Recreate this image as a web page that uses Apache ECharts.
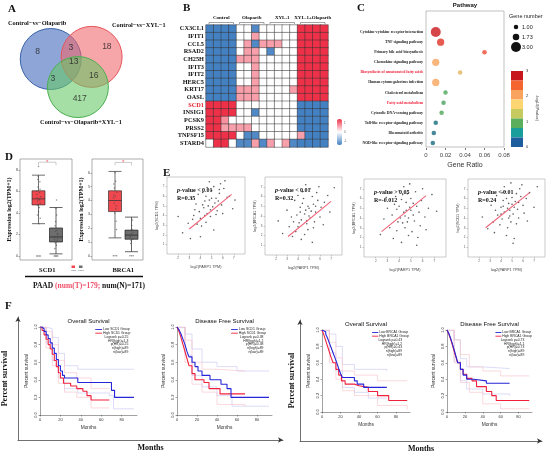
<!DOCTYPE html>
<html>
<head>
<meta charset="utf-8">
<script src="https://cdn.jsdelivr.net/npm/echarts@6/dist/echarts.min.js"></script>
<style>
  html, body { margin: 0; padding: 0; background: #fff; }
  #chart { width: 550px; height: 454px; }
</style>
</head>
<body>
<div id="chart"></div>
<script>
var SERIF = '"Liberation Serif", "Times New Roman", serif';
var SANS = '"Liberation Sans", Arial, sans-serif';

// ---------------- A: Venn ----------------
var vennNames = ['Control\u2212vs\u2212Olaparib', 'Control\u2212vs\u2212XYL\u22121', 'Control\u2212vs\u2212Olaparib+XYL\u22121'];
var vennCenters = [[0, 0], [1.34, 0.07], [0.89, -0.92]];        // unit radius circles
var vennCounts = [8, 3, 18, 13, 3, 16, 417];
var vennCountAt = [[-0.43, 0.23], [0.66, 0.36], [1.84, 0.39], [0.75, -0.1], [0.07, -0.66], [1.41, -0.56], [0.95, -1.31]];

// ---------------- B: heatmap ----------------
var hmGenes = ['CX3CL1', 'IFIT1', 'CCL5', 'RSAD2', 'CH25H', 'IFIT3', 'IFIT2', 'HERC5', 'KRT17', 'OASL',
               'SCD1', 'INSIG1', 'PCSK9', 'PRSS2', 'TNFSF15', 'STARD4'];
var hmGroups = ['Control', 'Olaparib', 'XYL-1', 'XYL-1+Olaparib'];
var hmRows = [
  [-1.5, -1.5, -1.5, -1.5, 0, 0, -1.4, 0, 0, 0, 0, 0, 1.5, 1.5, 1.5, 1.5],
  [-1.5, -1.5, -1.5, -1.5, 0, 0, 0.7, 0, 0, 0, 0, 0, 1.5, 1.5, 1.5, 1.5],
  [-1.5, -1.5, -1.5, -1.5, 0, 0.7, -1.4, 0.7, 0.7, 0.7, 0, 0, 1.5, 1.5, 1.5, 1.5],
  [-1.5, -1.5, -1.5, -1.5, 0, 0.7, 0.7, 0, -1.4, 0, 0, 0, 1.5, 1.5, 1.5, 1.5],
  [-1.5, -1.5, -1.5, -1.5, 0.7, 0.7, 0.7, 0, 0, 0, 0, 0, 1.5, 1.5, 1.5, 1.5],
  [-1.5, -1.5, -1.5, -1.5, 0, 0, 0.7, 0, 0, 0, 0, 0, 1.5, 1.5, 1.5, 1.5],
  [-1.5, -1.5, -1.5, -1.5, 0, 0, 0.7, 0, 0, 0, 0, 0, 1.5, 1.5, 1.5, 1.5],
  [-1.5, -1.5, -1.5, -1.5, 0, 0, 0.7, 0, 0, 0, 0, 0, 1.5, 1.5, 1.5, 1.5],
  [-1.5, -1.5, -1.5, -1.5, 0.7, 0.7, 0.7, 0, 0, 0, 0, 0.7, 1.5, 1.5, 1.5, 1.5],
  [-1.5, -1.5, -1.5, -1.5, 0.7, 0.7, 0.7, 0, 0, 0, 0, 0, 1.5, 1.5, 1.5, 1.5],
  [1.5, 1.5, 1.5, 1.5, 0, 0, 0, 0, 0, 0, 0, 0, -1.5, -1.5, -1.5, -1.5],
  [1.5, 1.5, 1.5, 1.5, 0, 0, -1.4, 0, 0, 0, 0, 0, -1.5, -1.5, -1.5, -1.5],
  [1.5, 1.5, 0.8, 0, 0, 0, 0, 0, 0, 0, 0, 0, -1.5, -1.5, -1.5, -1.5],
  [1.5, 1.5, 0.7, 0.7, 0.7, 0.7, 0, 0, 0, 0, 0, 0, -1.5, -1.5, -1.5, -1.5],
  [1.5, 1.5, 1.5, 1.5, 0, -1.4, -1.4, 0, 0, 0, 0, 0, 0.7, -1.5, -1.5, -1.5],
  [0, 1.5, 1.5, 0, -1.4, -1.4, 0.7, -1.4, 0.7, 0, 0.7, -1.4, -1.5, -1.5, -1.5, -1.5]
];

// ---------------- C: pathway dot plot ----------------
var pwNames = ['Cytokine-cytokine receptor interaction', 'TNF signaling pathway', 'Primary bile acid biosynthesis',
  'Chemokine signaling pathway', 'Biosynthesis of unsaturated fatty acids', 'Human cytomegalovirus infection',
  'Cholesterol metabolism', 'Fatty acid metabolism', 'Cytosolic DNA-sensing pathway',
  'Toll-like receptor signaling pathway', 'Rheumatoid arthritis', 'NOD-like receptor signaling pathway'];
var pwRed = ['Biosynthesis of unsaturated fatty acids', 'Fatty acid metabolism'];
var pwRatio = [0.010, 0.015, 0.060, 0.010, 0.035, 0.010, 0.020, 0.018, 0.016, 0.010, 0.008, 0.007];
var pwLogP = [2.95, 2.7, 2.5, 2.0, 1.8, 2.0, 1.0, 0.95, 1.0, 0.4, 0.35, 0.35];
var pwGenes = [3, 2, 1, 2, 1, 2, 1, 1, 1, 1, 1, 1];
var geneLegend = [1.00, 1.73, 3.00];
var pBins = [0, 0.375, 0.75, 1.125, 1.5, 1.875, 2.25, 2.625, 3];
var pBinColors = ['#1E5E9E', '#1A9E9B', '#5BAE5C', '#C6CB60', '#FDD672', '#F9A35E', '#F4652F', '#C8161E'];
var pTicks = [0, 1, 2, 3];

// ---------------- D: expression boxplots ----------------
var dGenes = ['SCD1', 'BRCA1'];
var dTumorBox = [[3.0, 4.74, 5.3, 6.05, 7.5], [1.3, 3.2, 4.0, 4.7, 6.1]];
var dNormalBox = [[0.2, 1.3, 1.77, 2.6, 4.5], [0.3, 1.2, 1.5, 1.86, 2.8]];
var dTumorPts = [
  [[0.02, 5.3], [-0.08, 5.7], [0.1, 4.9], [-0.03, 6.4], [0.05, 4.5], [-0.1, 6.0], [0.12, 5.5], [-0.05, 5.1], [0.08, 6.9],
   [0, 4.1], [-0.07, 4.7], [0.06, 5.9], [-0.02, 7.4], [0.1, 3.5], [-0.04, 7.1], [0.03, 3.0], [-0.09, 5.4], [0.07, 5.2],
   [0, 8.3], [-0.06, 3.8], [0.09, 6.2], [-0.01, 4.8], [0.04, 0], [-0.1, 0], [0.1, 0], [-0.04, 0]],
  [[0, 4.0], [-0.07, 4.4], [0.08, 3.6], [-0.04, 4.9], [0.05, 3.4], [-0.1, 4.2], [0.11, 4.6], [-0.02, 3.1], [0.04, 5.4],
   [-0.05, 3.8], [0.07, 2.5], [0, 6.0], [-0.08, 5.2], [0.09, 1.9], [0.02, 4.3], [0, 0], [-0.1, 0], [0.1, 0]]
];
var dNormalPts = [
  [[0, 1.8], [-0.08, 1.5], [0.08, 2.1], [-0.04, 1.2], [0.05, 2.4], [-0.1, 1.7], [0.1, 2.0], [0.02, 1.0], [-0.05, 2.8],
   [0.06, 1.4], [-0.02, 3.2], [0.04, 3.8], [-0.07, 0.7], [0.09, 1.6], [0, 4.4], [-0.03, 2.3], [0.03, 5.2],
   [0, 0], [-0.1, 0], [0.1, 0], [-0.05, 0], [0.05, 0]],
  [[0, 1.5], [-0.07, 1.3], [0.07, 1.7], [-0.03, 1.1], [0.04, 1.9], [-0.09, 1.4], [0.09, 1.2], [0.02, 2.2], [-0.05, 0.9],
   [0.06, 2.6], [-0.01, 1.6], [0, 0], [-0.1, 0], [0.1, 0]]
];
var dYRange = [[-0.37, 9.0], [-0.3, 7.0]];
var dSigTop = [8.7, 6.75];

// ---------------- E: correlation scatters ----------------
var eYNames = ['log2(SCD1 TPM)', 'log2(BRCA1 TPM)', 'log2(BRCA1 TPM)', 'log2(SCD1 TPM)'];
var eXName = 'log2(PARP1 TPM)';
var ePText = ['-value < 0.01', '-value < 0.01', '-value > 0.05', '-value < 0.01'];
var eRText = ['R=0.35', 'R=0.32', 'R=-0.012', 'R=0.24'];
var eFit = [[3.0, 2.6, 6.8, 6.2], [3.1, 1.9, 7.0, 5.5], [2.5, 2.6, 6.3, 6.3], [2.6, 3.0, 6.6, 6.6]];
var ePts1 = [[4.2,5.1],[4.8,5.6],[5.1,4.9],[3.9,4.4],[4.5,6.0],[5.4,5.8],[4.0,3.7],[5.7,6.3],[4.6,4.2],[3.6,5.2],
  [5.0,6.6],[4.3,4.8],[5.9,5.1],[4.9,3.9],[3.3,3.6],[5.2,7.0],[4.4,5.5],[6.1,6.8],[3.8,6.2],[4.7,5.0],[5.5,4.5],
  [4.1,2.9],[5.3,5.3],[4.6,6.9],[6.4,5.9],[3.5,4.6],[5.8,7.3],[4.9,4.6],[2.9,3.2],[5.0,5.8],[4.2,6.4],[6.6,6.0],
  [3.7,3.1],[5.6,5.5],[4.4,4.0],[2.4,2.2],[6.9,4.7],[5.2,2.5],[3.2,5.8],[6.2,7.6],[4.0,1.8],[7.1,5.6],[2.0,3.9],
  [5.4,4.1],[4.8,7.5],[3.4,4.0],[6.0,4.2],[4.5,3.3],[5.7,6.7],[3.1,1.6]];
var ePts2 = [[4.6,4.2],[5.0,4.8],[4.3,3.6],[5.4,5.2],[4.8,3.2],[3.9,4.1],[5.6,4.4],[4.4,5.3],[5.1,3.8],[4.0,2.9],
  [5.8,5.6],[4.7,4.6],[3.6,3.4],[5.3,6.0],[4.9,2.6],[4.2,4.9],[6.1,4.9],[3.8,2.4],[5.5,3.4],[4.5,5.8],[5.0,4.0],
  [6.4,5.4],[3.4,3.9],[4.1,3.3],[5.7,6.4],[4.6,2.1],[5.2,4.5],[3.2,2.9],[6.0,3.9],[4.4,6.5],[4.9,5.0],[6.7,6.1],
  [3.0,4.6],[5.4,2.8],[4.3,1.6],[5.9,7.0],[2.6,2.2],[6.9,4.4],[4.7,7.2],[3.7,5.6],[5.3,1.3],[2.2,3.5],[7.3,6.9],
  [4.0,6.1],[5.6,5.0],[4.8,3.5],[3.5,1.9],[6.3,3.1],[4.2,4.4],[5.1,6.8]];
var ePts3 = [[4.4,4.6],[4.9,5.1],[4.1,4.0],[5.2,4.3],[4.6,5.6],[3.8,4.9],[5.5,5.2],[4.3,3.5],[4.8,4.0],[5.0,6.0],
  [3.6,5.4],[5.7,4.6],[4.5,3.0],[4.2,5.9],[5.3,3.7],[3.9,3.6],[4.7,6.5],[5.9,5.8],[3.4,4.3],[4.6,4.8],[5.1,2.6],
  [4.0,6.8],[6.2,4.1],[3.2,3.0],[5.4,6.7],[4.8,2.2],[3.7,6.2],[5.8,3.2],[4.4,7.2],[6.5,5.0],[3.0,5.0],[5.6,2.0],
  [4.2,1.5],[2.7,3.9],[6.8,6.4],[4.9,7.5],[2.4,2.3],[7.2,4.7],[3.5,1.9],[5.2,5.5],[4.5,4.2],[4.0,5.2],[5.0,4.8],
  [3.8,2.7],[6.0,7.0],[4.7,3.6],[2.9,6.1],[5.5,1.2],[4.3,6.4],[6.3,2.8]];
var ePts4 = [[4.6,5.0],[5.0,5.4],[4.3,4.6],[5.3,5.7],[4.8,4.2],[4.0,5.1],[5.5,4.9],[4.5,6.0],[5.1,4.4],[4.1,3.9],
  [5.8,6.2],[4.7,5.5],[3.7,4.3],[5.4,6.5],[4.9,3.6],[4.2,5.8],[6.0,5.3],[3.9,3.3],[5.6,4.0],[4.4,6.7],[5.2,5.1],
  [6.3,6.0],[3.5,4.8],[4.0,4.4],[5.7,7.0],[4.6,3.0],[5.0,6.1],[3.3,3.6],[6.1,4.5],[4.3,7.2],[4.8,4.8],[6.6,6.6],
  [3.1,5.3],[5.4,3.4],[4.5,2.2],[5.9,7.4],[2.8,2.9],[7.0,5.1],[4.9,7.6],[3.6,6.3],[5.2,1.9],[2.3,4.1],[7.3,7.2],
  [4.1,6.6],[5.6,5.6],[4.7,4.0],[3.4,2.5],[6.4,3.7],[4.2,5.2],[5.1,1.4]];
var ePts = [ePts1, ePts2, ePts3, ePts4];

// ---------------- F: survival curves ----------------
var fTitles = ['Overall Survival', 'Disease Free Survival', 'Overall Survival', 'Disease Free Survival'];
var fGenes = ['SCD1', 'SCD1', 'BRCA1', 'BRCA1'];
var fStats = [
  ['Logrank p=0.25', 'HR(high)=1.3', 'p(HR)=0.25', 'n(high)=89', 'n(low)=89'],
  ['Logrank p=0.38', 'HR(high)=1.2', 'p(HR)=0.38', 'n(high)=89', 'n(low)=89'],
  ['Logrank p=0.43', 'HR(high)=1.2', 'p(HR)=0.43', 'n(high)=89', 'n(low)=89'],
  ['Logrank p=0.73', 'HR(high)=1.1', 'p(HR)=0.73', 'n(high)=89', 'n(low)=89']
];
var osLowSCD1 = [[0,1],[2,0.98],[4,0.95],[6,0.91],[8,0.87],[10,0.82],[12,0.76],[14,0.7],[16,0.63],[18,0.56],[20,0.5],[22,0.45],[24,0.42],[37,0.37],[68,0.37],[70,0.28],[73,0.2],[92,0.2]];
var osHighSCD1 = [[0,1],[2,0.96],[4,0.91],[6,0.86],[8,0.8],[10,0.75],[12,0.69],[14,0.62],[16,0.55],[18,0.48],[20,0.42],[23,0.36],[30,0.33],[36,0.3],[42,0.27],[46,0.22],[50,0.17],[68,0.17]];
var osLowSCD1Up = [[0,1],[6,0.98],[12,0.88],[18,0.7],[24,0.56],[37,0.52],[92,0.52]];
var osLowSCD1Lo = [[0,1],[6,0.82],[12,0.62],[18,0.42],[24,0.3],[37,0.25],[68,0.22],[72,0.07],[92,0.07]];
var osHighSCD1Up = [[0,1],[6,0.95],[12,0.8],[18,0.62],[24,0.48],[36,0.42],[50,0.3],[68,0.3]];
var osHighSCD1Lo = [[0,1],[6,0.76],[12,0.56],[18,0.36],[24,0.26],[36,0.2],[50,0.08],[68,0.08]];

var dfsLowSCD1 = [[0,1],[2,0.97],[4,0.92],[6,0.86],[8,0.8],[10,0.72],[12,0.66],[15,0.6],[18,0.55],[21,0.5],[25,0.45],[33,0.4],[44,0.35],[50,0.3],[54,0.2],[92,0.2]];
var dfsHighSCD1 = [[0,1],[2,0.95],[4,0.88],[6,0.8],[8,0.72],[10,0.64],[12,0.56],[15,0.47],[18,0.4],[27,0.37],[32,0.3],[43,0.24],[68,0.24]];
var dfsLowSCD1Up = [[0,1],[8,0.92],[15,0.75],[25,0.6],[40,0.55],[60,0.5],[92,0.5]];
var dfsLowSCD1Lo = [[0,1],[8,0.68],[15,0.45],[25,0.32],[40,0.22],[55,0.1],[92,0.1]];
var dfsHighSCD1Up = [[0,1],[8,0.85],[15,0.6],[25,0.52],[40,0.5],[68,0.5]];
var dfsHighSCD1Lo = [[0,1],[8,0.6],[15,0.35],[25,0.26],[40,0.12],[68,0.1]];

var osLowBRCA1 = [[0,1],[2,0.98],[4,0.95],[6,0.9],[8,0.84],[10,0.78],[12,0.72],[14,0.66],[16,0.6],[18,0.53],[20,0.47],[22,0.42],[35,0.38],[38,0.34],[45,0.3],[70,0.3]];
var osHighBRCA1 = [[0,1],[2,0.94],[4,0.87],[6,0.8],[8,0.73],[10,0.66],[12,0.6],[15,0.52],[18,0.45],[21,0.38],[25,0.34],[35,0.32],[40,0.3],[50,0.25],[60,0.2],[72,0.14],[92,0.14]];
var osLowBRCA1Up = [[0,1],[8,0.95],[15,0.8],[22,0.58],[35,0.52],[70,0.5]];
var osLowBRCA1Lo = [[0,1],[8,0.72],[15,0.5],[22,0.3],[35,0.24],[50,0.17],[70,0.17]];
var osHighBRCA1Up = [[0,1],[8,0.85],[15,0.66],[22,0.5],[35,0.45],[60,0.38],[92,0.38]];
var osHighBRCA1Lo = [[0,1],[8,0.6],[15,0.4],[22,0.26],[35,0.2],[60,0.08],[92,0.03]];

var dfsLowBRCA1 = [[0,1],[2,0.96],[4,0.9],[6,0.83],[8,0.76],[10,0.68],[12,0.6],[15,0.52],[18,0.45],[22,0.4],[30,0.38],[44,0.35],[70,0.35]];
var dfsHighBRCA1 = [[0,1],[2,0.95],[4,0.89],[6,0.82],[8,0.74],[10,0.67],[12,0.6],[15,0.52],[18,0.46],[22,0.41],[28,0.38],[33,0.31],[44,0.25],[50,0.2],[55,0.14],[92,0.14]];
var dfsLowBRCA1Up = [[0,1],[8,0.88],[15,0.65],[22,0.55],[40,0.53],[70,0.53]];
var dfsLowBRCA1Lo = [[0,1],[8,0.62],[15,0.38],[22,0.28],[40,0.22],[70,0.2]];
var dfsHighBRCA1Up = [[0,1],[8,0.88],[15,0.7],[25,0.55],[40,0.5],[60,0.44],[92,0.44]];
var dfsHighBRCA1Lo = [[0,1],[8,0.6],[15,0.36],[25,0.24],[40,0.1],[60,0.04],[92,0.04]];

var fLow = [osLowSCD1, dfsLowSCD1, osLowBRCA1, dfsLowBRCA1];
var fHigh = [osHighSCD1, dfsHighSCD1, osHighBRCA1, dfsHighBRCA1];
var fLowCI = [[osLowSCD1Up, osLowSCD1Lo], [dfsLowSCD1Up, dfsLowSCD1Lo], [osLowBRCA1Up, osLowBRCA1Lo], [dfsLowBRCA1Up, dfsLowBRCA1Lo]];
var fHighCI = [[osHighSCD1Up, osHighSCD1Lo], [dfsHighSCD1Up, dfsHighSCD1Lo], [osHighBRCA1Up, osHighBRCA1Lo], [dfsHighBRCA1Up, dfsHighBRCA1Lo]];

// ================= build =================
var chart = echarts.init(document.getElementById('chart'));
var grids = [], xAxes = [], yAxes = [], series = [], visualMaps = [], graphics = [];

function addGrid(g) {
  grids.push(Object.assign({ outerBoundsMode: 'none', containLabel: false }, g));
  return grids.length - 1;
}
function addX(a) { xAxes.push(Object.assign({ splitLine: { show: false } }, a)); return xAxes.length - 1; }
function addY(a) { yAxes.push(Object.assign({ splitLine: { show: false } }, a)); return yAxes.length - 1; }
function text(x, y, s, st, extra) {
  graphics.push(Object.assign({
    type: 'text', x: x, y: y, silent: true, z: 50,
    style: Object.assign({ text: s, fill: '#111', fontSize: 6, fontFamily: SERIF, fontWeight: 'bold', align: 'left', verticalAlign: 'middle' }, st)
  }, extra || {}));
}

// panel letters
[['A', 8, 9], ['B', 183, 8], ['C', 357, 8], ['D', 5, 157], ['E', 163, 173], ['F', 5, 306]].forEach(function (p) {
  text(p[1], p[2], p[0], { fontSize: 11 });
});

// ---- A
var gA = addGrid({ left: 5, top: 13.25, width: 152.5, height: 122 });
var xA = addX({ gridIndex: gA, type: 'value', min: -1.5, max: 3.5, show: false });
var yA = addY({ gridIndex: gA, type: 'value', min: -2.5, max: 1.5, show: false });
var vennFill = ['rgba(72,112,190,0.62)', 'rgba(240,100,105,0.58)', 'rgba(100,200,100,0.58)'];
var vennStroke = ['#3A63A8', '#E8555A', '#4CAF50'];
series.push({
  type: 'custom', xAxisIndex: xA, yAxisIndex: yA, z: 2,
  data: vennCenters.map(function (c, i) { return [c[0], c[1], i]; }),
  renderItem: function (params, api) {
    var c = api.coord([api.value(0), api.value(1)]);
    var r = api.size([1, 0])[0];
    var i = api.value(2);
    return { type: 'circle', shape: { cx: c[0], cy: c[1], r: r }, style: { fill: vennFill[i], stroke: vennStroke[i], lineWidth: 1 } };
  }
});
series.push({
  type: 'scatter', xAxisIndex: xA, yAxisIndex: yA, z: 3, symbolSize: 1, itemStyle: { color: 'rgba(0,0,0,0)' },
  data: vennCountAt.map(function (p, i) { return [p[0], p[1], vennCounts[i]]; }),
  label: { show: true, position: 'inside', formatter: function (p) { return p.value[2]; }, fontSize: 8.5, color: '#222', fontFamily: SANS }
});
text(8, 23, vennNames[0], { fontSize: 6.3 });
text(112, 25, vennNames[1], { fontSize: 6.3 });
text(81, 122, vennNames[2], { fontSize: 6.3, align: 'center' });

// ---- B
var B_LEFT = 206, B_TOP = 25, B_W = 122, B_H = 122;
var gB = addGrid({ left: B_LEFT, top: B_TOP, width: B_W, height: B_H });
var nCols = hmRows[0].length;
var colIds = []; for (var c = 0; c < nCols; c++) colIds.push(String(c));
var xB = addX({ gridIndex: gB, type: 'category', data: colIds, show: false });
addX({ gridIndex: gB, type: 'category', data: hmGroups, position: 'top',
  axisLine: { show: false }, axisTick: { show: false },
  axisLabel: { interval: 0, fontSize: 5, fontFamily: SERIF, fontWeight: 'bold', color: '#111', margin: 5 } });
var yB = addY({ gridIndex: gB, type: 'category', inverse: true,
  data: hmGenes.map(function (g) { return g === 'SCD1' ? { value: g, textStyle: { color: '#E8202A' } } : g; }),
  axisLine: { show: false }, axisTick: { show: false },
  axisLabel: { interval: 0, fontSize: 6.3, fontFamily: SERIF, fontWeight: 'bold', color: '#111', margin: 2 } });
var hmData = [];
hmRows.forEach(function (row, r) { row.forEach(function (v, c) { hmData.push([c, r, v]); }); });
series.push({ type: 'heatmap', xAxisIndex: xB, yAxisIndex: yB, data: hmData,
  itemStyle: { borderColor: '#333', borderWidth: 0.5 } });
var heatIdx = series.length - 1;
visualMaps.push({ type: 'continuous', seriesIndex: heatIdx, min: -1.5, max: 1.5, calculable: false,
  left: 337, top: 119, itemWidth: 5, itemHeight: 26, padding: 0, text: ['', ''], hoverLink: false,
  inRange: { color: ['#4481C2', '#FFFFFF', '#EE3148'] }, textStyle: { fontSize: 3 } });
['1', '0', '-1'].forEach(function (t, i) { text(344, 123 + i * 9, t, { fontSize: 3, fontWeight: 'normal', fill: '#666', fontFamily: SANS }); });
var gw = B_W / hmGroups.length;
hmGroups.forEach(function (g, i) {
  var x1 = B_LEFT + i * gw + 3, x2 = B_LEFT + (i + 1) * gw - 3;
  graphics.push({ type: 'polyline', silent: true, shape: { points: [[x1, 24], [x1, 22.5], [x2, 22.5], [x2, 24]] },
    style: { stroke: '#666', lineWidth: 0.6, fill: null } });
});

// ---- C
addGrid({ left: 426, top: 11, width: 78, height: 136, show: true, borderColor: '#999', borderWidth: 0.6 });
var gC = addGrid({ left: 426, top: 27, width: 78, height: 121 });
var xC = addX({ gridIndex: gC, type: 'value', min: 0, max: 0.08, interval: 0.02,
  axisLine: { show: false }, axisTick: { show: true, length: 2, lineStyle: { color: '#777' } },
  axisLabel: { fontSize: 6, color: '#444', fontFamily: SANS, margin: 4 },
  name: 'Gene Ratio', nameLocation: 'middle', nameGap: 14, nameTextStyle: { fontSize: 7, color: '#333', fontFamily: SANS } });
var yC = addY({ gridIndex: gC, type: 'category', inverse: true,
  data: pwNames.map(function (n) { return pwRed.indexOf(n) >= 0 ? { value: n, textStyle: { color: '#F0203A' } } : n; }),
  axisLine: { show: false }, axisTick: { show: false },
  axisLabel: { interval: 0, fontSize: 3.8, fontFamily: SERIF, fontWeight: 'bold', color: '#222', margin: 3 } });
function dotSize(g) { return 4.5 + (g - 1) * 2.75; }
series.push({ type: 'scatter', xAxisIndex: xC, yAxisIndex: yC,
  data: pwNames.map(function (n, i) { return [pwRatio[i], i, pwLogP[i], pwGenes[i]]; }),
  symbolSize: function (v) { return dotSize(v[3]); } });
var dotIdx = series.length - 1;
series.push({ type: 'scatter', xAxisIndex: xC, yAxisIndex: yC, data: [] });
var dummyIdx = series.length - 1;
visualMaps.push({ type: 'continuous', show: false, seriesIndex: dotIdx, dimension: 2, min: 0, max: 3,
  inRange: { color: ['#1E5E9E', '#127070', '#4DA65A', '#C6CB60', '#F8A45C', '#F04A2E', '#C8101A'] } });
var pieces = [];
for (var k = 0; k < pBinColors.length; k++) pieces.push({ min: pBins[k], max: pBins[k + 1], color: pBinColors[k] });
visualMaps.push({ type: 'piecewise', seriesIndex: dummyIdx, pieces: pieces, orient: 'vertical',
  left: 511, top: 71, itemWidth: 12, itemHeight: 76 / 8, itemGap: 0, itemSymbol: 'rect', padding: 0,
  showLabel: false, selectedMode: false, textStyle: { fontSize: 1 } });
text(465, 5, 'Pathway', { fontSize: 6, fontFamily: SANS, align: 'center' });
text(509, 16, 'Gene number', { fontSize: 5.5, fontFamily: SANS, fontWeight: 'normal', fill: '#222' });
geneLegend.forEach(function (g, i) {
  var cy = [27, 37, 47][i];
  graphics.push({ type: 'circle', silent: true, shape: { cx: 516, cy: cy, r: dotSize(g) / 2 }, style: { fill: '#111' } });
  text(522, cy, g.toFixed(2), { fontSize: 5.5, fontFamily: SANS, fontWeight: 'normal', fill: '#222' });
});
pTicks.forEach(function (t) {
  text(526, 71 + (3 - t) / 3 * 76, String(t), { fontSize: 4, fontFamily: SANS, fontWeight: 'normal', fill: '#333' });
});
text(537, 108, '-log10(Pvalue)', { fontSize: 4, fontFamily: SANS, fontWeight: 'normal', fill: '#333', align: 'center' }, { rotation: -Math.PI / 2 });

// ---- D
var dFrame = [[20, 52], [92, 51]];
var dBox = [[29.75, 35], [106.75, 33]];
dGenes.forEach(function (gene, k) {
  var gf = addGrid({ left: dFrame[k][0], top: 159, width: dFrame[k][1], height: 101, show: true, borderColor: '#777', borderWidth: 0.6 });
  addX({ gridIndex: gf, type: 'value', min: 0, max: 1, show: false });
  addY({ gridIndex: gf, type: 'value', min: dYRange[k][0], max: dYRange[k][1],
    axisLine: { show: false }, axisTick: { show: true, length: 1.5, lineStyle: { color: '#555', width: 0.5 } },
    axisLabel: { fontSize: 3.5, color: '#333', margin: 2, showMinLabel: false, showMaxLabel: false },
    name: 'Expression log2(TPM+1)', nameLocation: 'middle', nameGap: 6,
    nameTextStyle: { fontSize: 6, fontFamily: SERIF, fontWeight: 'bold', color: '#111' } });
  var gb = addGrid({ left: dBox[k][0], top: 159, width: dBox[k][1], height: 101 });
  var xc = addX({ gridIndex: gb, type: 'category', data: ['Tumor', 'Normal'], show: false });
  var xj = addX({ gridIndex: gb, type: 'value', min: -0.5, max: 1.5, show: false });
  var yb = addY({ gridIndex: gb, type: 'value', min: dYRange[k][0], max: dYRange[k][1], show: false });
  series.push({ type: 'boxplot', xAxisIndex: xc, yAxisIndex: yb, boxWidth: [13, 13], z: 2,
    data: [
      { value: dTumorBox[k], itemStyle: { color: '#F0484E', borderColor: '#333', borderWidth: 0.7 } },
      { value: dNormalBox[k], itemStyle: { color: '#6E6E6E', borderColor: '#222', borderWidth: 0.7 } }
    ] });
  series.push({ type: 'scatter', xAxisIndex: xj, yAxisIndex: yb, z: 3, symbolSize: 1.5,
    itemStyle: { color: 'rgba(70,70,70,0.75)' },
    data: dTumorPts[k].map(function (p) { return [0 + p[0], p[1]]; }).concat(dNormalPts[k].map(function (p) { return [1 + p[0], p[1]]; })) });
  var top = dSigTop[k], drop = (dYRange[k][1] - dYRange[k][0]) * 0.03;
  series.push({ type: 'line', xAxisIndex: xj, yAxisIndex: yb, symbol: 'none', z: 3,
    lineStyle: { color: '#999', width: 0.5 }, data: [[0, top - drop], [0, top], [1, top], [1, top - drop]] });
  series.push({ type: 'scatter', xAxisIndex: xj, yAxisIndex: yb, symbolSize: 1, itemStyle: { color: 'rgba(0,0,0,0)' }, z: 4,
    data: [[0.5, top]], label: { show: true, position: 'inside', formatter: '*', color: '#F0203A', fontSize: 6 } });
  text(dBox[k][0] + dBox[k][1] / 2, 270, gene, { fontSize: 6.5, align: 'center' });
});
graphics.push({ type: 'rect', silent: true, shape: { x: 71.5, y: 265.5, width: 3.5, height: 2.5 }, style: { fill: '#F0484E' } });
graphics.push({ type: 'rect', silent: true, shape: { x: 79, y: 265.5, width: 3.5, height: 2.5 }, style: { fill: '#6E6E6E' } });
text(73.2, 270, 'Tumor', { fontSize: 2, fontWeight: 'normal', align: 'center', fill: '#444' });
text(80.8, 270, 'Normal', { fontSize: 2, fontWeight: 'normal', align: 'center', fill: '#444' });
graphics.push({ type: 'line', silent: true, shape: { x1: 25, y1: 276.5, x2: 143, y2: 276.5 }, style: { stroke: '#111', lineWidth: 1.5 } });
text(89, 286, 'PAAD {r|(num(T)=179;} num(N)=171)', { fontSize: 7.5, align: 'center',
  rich: { r: { fill: '#F0506A', fontSize: 7.5, fontFamily: SERIF, fontWeight: 'bold' } } });

// ---- E
var eGrid = [[167, 177, 78, 77], [265, 177, 77, 78], [364, 179, 82, 78], [468, 179, 77, 78]];
eGrid.forEach(function (b, k) {
  var g = addGrid({ left: b[0], top: b[1], width: b[2], height: b[3], show: true, borderColor: '#aaa', borderWidth: 0.6 });
  var xe = addX({ gridIndex: g, type: 'value', min: 1, max: 8, interval: 1,
    axisLine: { show: false }, axisTick: { show: true, length: 1.5, lineStyle: { color: '#999', width: 0.5 } },
    axisLabel: { fontSize: 3, color: '#555', margin: 3, showMinLabel: false, showMaxLabel: false },
    name: eXName, nameLocation: 'middle', nameGap: 11, nameTextStyle: { fontSize: 3.8, color: '#444' } });
  var ye = addY({ gridIndex: g, type: 'value', min: 0, max: 8, interval: 1,
    axisLine: { show: false }, axisTick: { show: true, length: 1.5, lineStyle: { color: '#999', width: 0.5 } },
    axisLabel: { fontSize: 3, color: '#555', margin: 2.5, showMinLabel: false, showMaxLabel: false },
    name: eYNames[k], nameLocation: 'middle', nameGap: 8, nameTextStyle: { fontSize: 3.8, color: '#444' } });
  series.push({ type: 'scatter', xAxisIndex: xe, yAxisIndex: ye, data: ePts[k], symbolSize: 1.6,
    itemStyle: { color: '#333' } });
  series.push({ type: 'line', xAxisIndex: xe, yAxisIndex: ye, symbol: 'none', z: 3,
    data: [[eFit[k][0], eFit[k][1]], [eFit[k][2], eFit[k][3]]], lineStyle: { color: '#F06478', width: 1.1 } });
  text(b[0] + 10, b[1] + 13, '{i|p}' + ePText[k], { fontSize: 6,
    rich: { i: { fontStyle: 'italic', fontWeight: 'bold', fontSize: 6, fontFamily: SERIF, fill: '#111' } } });
  text(b[0] + 10, b[1] + 21, eRText[k], { fontSize: 6 });
});

// ---- F
var fGrid = [[40, 327, 97, 88], [177, 327, 95, 88], [322, 330, 88, 82], [447, 330, 85, 82]];
var LOW_C = '#2626D8', HIGH_C = '#F0203C', LOW_CI = '#C4C4F2', HIGH_CI = '#F8C0C8';
fGrid.forEach(function (b, k) {
  var g = addGrid({ left: b[0], top: b[1], width: b[2], height: b[3] });
  var xf = addX({ gridIndex: g, type: 'value', min: 0, max: 95, interval: 20,
    axisLine: { show: true, lineStyle: { color: '#444', width: 0.5 } },
    axisTick: { show: true, length: 1.5, lineStyle: { color: '#444', width: 0.5 } },
    axisLabel: { fontSize: 4, color: '#333', margin: 3, showMaxLabel: false },
    name: 'Months', nameLocation: 'middle', nameGap: 10, nameTextStyle: { fontSize: 4.8, color: '#333' } });
  var yf = addY({ gridIndex: g, type: 'value', min: 0, max: 1, interval: 0.2,
    axisLine: { show: true, lineStyle: { color: '#444', width: 0.5 } },
    axisTick: { show: true, length: 1.5, lineStyle: { color: '#444', width: 0.5 } },
    axisLabel: { fontSize: 4, color: '#333', margin: 2.5, rotate: 90, formatter: function (v) { return v.toFixed(1); } },
    name: 'Percent survival', nameLocation: 'middle', nameGap: 11, nameTextStyle: { fontSize: 4.8, color: '#333' } });
  fLowCI[k].concat(fHighCI[k]).forEach(function (d, j) {
    series.push({ type: 'line', step: 'end', xAxisIndex: xf, yAxisIndex: yf, symbol: 'none', z: 1, data: d,
      lineStyle: { color: j < 2 ? LOW_CI : HIGH_CI, width: 0.6 } });
  });
  series.push({ type: 'line', step: 'end', xAxisIndex: xf, yAxisIndex: yf, symbol: 'none', z: 3, data: fHigh[k],
    lineStyle: { color: HIGH_C, width: 1.1 } });
  series.push({ type: 'line', step: 'end', xAxisIndex: xf, yAxisIndex: yf, symbol: 'none', z: 4, data: fLow[k],
    lineStyle: { color: LOW_C, width: 1.1 } });
  text(b[0] + b[2] / 2, b[1] - 6, fTitles[k], { fontSize: 6, fontFamily: SANS, fontWeight: 'normal', align: 'center' });
  var lx = b[0] + b[2] * 0.57, rx = b[0] + b[2] * 0.91;
  [['Low ' + fGenes[k] + ' Group', LOW_C], ['High ' + fGenes[k] + ' Group', HIGH_C]].forEach(function (e, i) {
    var y = b[1] + 2.5 + i * 3.7;
    graphics.push({ type: 'line', silent: true, shape: { x1: lx, y1: y, x2: lx + b[2] * 0.07, y2: y }, style: { stroke: e[1], lineWidth: 0.9 } });
    text(lx + b[2] * 0.08, y, e[0], { fontSize: 3.4, fontFamily: SANS, fontWeight: 'normal', fill: '#222' });
  });
  fStats[k].forEach(function (s, i) {
    text(rx, b[1] + 10 + i * 3.7, s, { fontSize: 3.4, fontFamily: SANS, fontWeight: 'normal', fill: '#222', align: 'right' });
  });
});

// big axes with arrows
[[18, 317, 265, 123, 9], [300, 320, 242, 121, 4]].forEach(function (b) {
  var g = addGrid({ left: b[0], top: b[1], width: b[2], height: b[3] });
  addX({ gridIndex: g, type: 'value', min: 0, max: 1,
    axisLine: { show: true, symbol: ['none', 'arrow'], symbolSize: [4, 5], lineStyle: { color: '#333', width: 0.7 } },
    axisTick: { show: false }, axisLabel: { show: false },
    name: 'Months', nameLocation: 'middle', nameGap: 4,
    nameTextStyle: { fontSize: 8, fontFamily: SERIF, fontWeight: 'bold', color: '#111' } });
  addY({ gridIndex: g, type: 'value', min: 0, max: 1,
    axisLine: { show: true, symbol: ['none', 'arrow'], symbolSize: [4, 5], lineStyle: { color: '#333', width: 0.7 } },
    axisTick: { show: false }, axisLabel: { show: false },
    name: 'Percent survival', nameLocation: 'middle', nameGap: b[4],
    nameTextStyle: { fontSize: 8, fontFamily: SERIF, fontWeight: 'bold', color: '#111' } });
});

chart.setOption({
  backgroundColor: '#fff',
  animation: false,
  grid: grids,
  xAxis: xAxes,
  yAxis: yAxes,
  visualMap: visualMaps,
  series: series,
  graphic: graphics
});
</script>
</body>
</html>
